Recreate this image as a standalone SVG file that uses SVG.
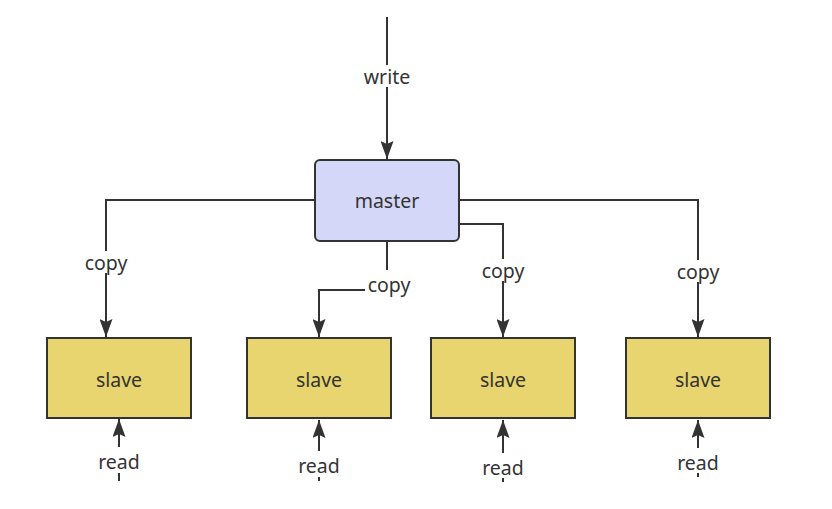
<svg xmlns="http://www.w3.org/2000/svg" width="832" height="509" viewBox="0 0 832 509">
<style>
text{font-family:"Noto Sans","Open Sans",sans-serif;font-size:19.5px;fill:#333;text-anchor:middle;dominant-baseline:central}
.edge{fill:none;stroke:#333;stroke-width:2}
.bg{fill:#fff}
.master{fill:#d4d7f8;stroke:#333;stroke-width:2}
.slave{fill:#e8d56f;stroke:#333;stroke-width:2}
</style>
<defs>
<marker id="arr" markerUnits="userSpaceOnUse" markerWidth="18" markerHeight="13" viewBox="0 0 18 13" refX="18" refY="6.5" orient="auto">
<path d="M0,0 L18,6.5 L0,13 L3,6.5 Z" fill="#333"/>
</marker>
</defs>
<rect width="832" height="509" fill="#fff"/>
<g id="connectors">
<path class="edge" d="M387,17 V159" marker-end="url(#arr)"/>
<rect class="bg" x="362" y="65" width="50" height="22"/>
<text x="387" y="76">write</text>
<path class="edge" d="M315,200 H106 V337" marker-end="url(#arr)"/>
<rect class="bg" x="81" y="251" width="50" height="22"/>
<text x="106" y="262">copy</text>
<path class="edge" d="M387,241 V290 H319 V337" marker-end="url(#arr)"/>
<rect class="bg" x="365" y="270" width="48" height="26"/>
<text x="389" y="284">copy</text>
<path class="edge" d="M459,224 H503 V337" marker-end="url(#arr)"/>
<rect class="bg" x="478" y="259" width="50" height="22"/>
<text x="503" y="270">copy</text>
<path class="edge" d="M459,200 H698 V337" marker-end="url(#arr)"/>
<rect class="bg" x="673" y="260" width="50" height="22"/>
<text x="698" y="271">copy</text>
<path class="edge" d="M119,481 V419" marker-end="url(#arr)"/>
<rect class="bg" x="96" y="447" width="46" height="26"/>
<text x="119" y="461">read</text>
<path class="edge" d="M319,481 V420" marker-end="url(#arr)"/>
<rect class="bg" x="296" y="451" width="46" height="26"/>
<text x="319" y="465">read</text>
<path class="edge" d="M503,482 V420" marker-end="url(#arr)"/>
<rect class="bg" x="480" y="453" width="46" height="25"/>
<text x="503" y="467">read</text>
<path class="edge" d="M698,477 V420" marker-end="url(#arr)"/>
<rect class="bg" x="675" y="448" width="46" height="25"/>
<text x="698" y="462">read</text>
</g>
<g id="master">
<rect class="master" x="315" y="160" width="144" height="81" rx="5"/>
<text x="387" y="200">master</text>
</g>
<g id="slave1">
<rect class="slave" x="47" y="338" width="144" height="80"/>
<text x="119" y="379">slave</text>
</g>
<g id="slave2">
<rect class="slave" x="247" y="338" width="144" height="80"/>
<text x="319" y="379">slave</text>
</g>
<g id="slave3">
<rect class="slave" x="431" y="338" width="144" height="80"/>
<text x="503" y="379">slave</text>
</g>
<g id="slave4">
<rect class="slave" x="626" y="338" width="144" height="80"/>
<text x="698" y="379">slave</text>
</g>
</svg>
